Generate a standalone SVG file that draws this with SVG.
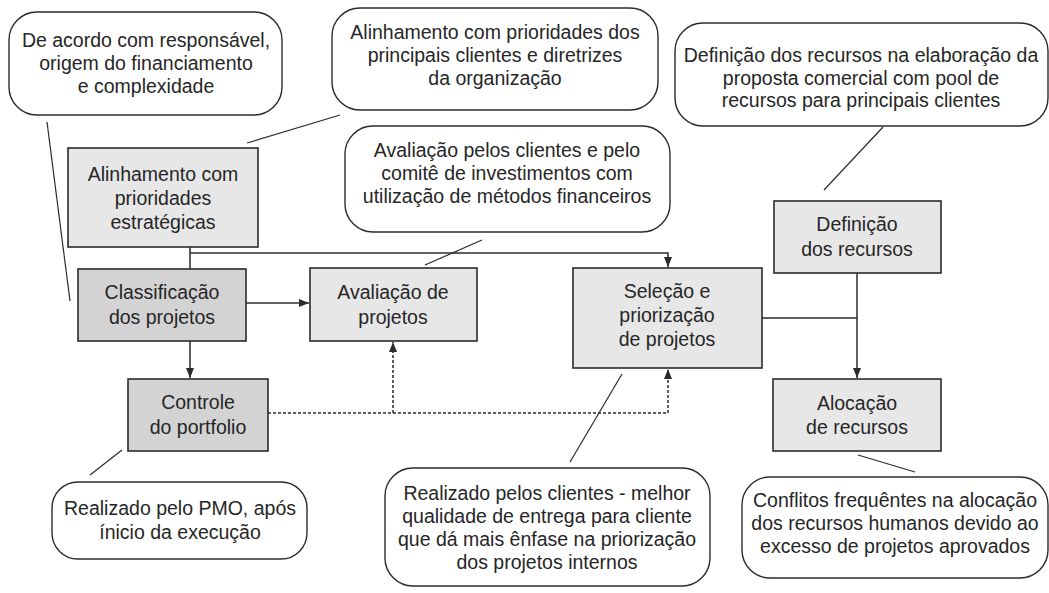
<svg xmlns="http://www.w3.org/2000/svg" width="1049" height="593" viewBox="0 0 1049 593">
<defs>
<style>
.bg{fill:#ffffff}
.callout{fill:#ffffff;stroke:#2b2b2b;stroke-width:1.4}
.box{fill:#e7e7e8;stroke:#2b2b2b;stroke-width:1.6}
.dark{fill:#d3d3d4}
.t{font-family:"Liberation Sans",Arial,sans-serif;font-size:19.5px;fill:#262626;text-anchor:middle}
.line{fill:none;stroke:#2b2b2b;stroke-width:1.5}
.dot{fill:none;stroke:#2b2b2b;stroke-width:1.5;stroke-dasharray:3 2}
.lead{fill:none;stroke:#2b2b2b;stroke-width:1.2}
</style>
<marker id="arr" viewBox="0 0 10 10" refX="10" refY="5" markerWidth="10" markerHeight="10" markerUnits="userSpaceOnUse" orient="auto">
<path d="M0,1 L10,5 L0,9 Z" fill="#2b2b2b"/>
</marker>
</defs>
<rect class="bg" x="0" y="0" width="1049" height="593"/>

<g id="connectors">
<path class="line" d="M190,247 V269"/>
<path class="line" d="M190,253 H668 V267" marker-end="url(#arr)"/>
<path class="line" d="M246,303 H309" marker-end="url(#arr)"/>
<path class="line" d="M190,341 V378" marker-end="url(#arr)"/>
<path class="line" d="M857,273 V378" marker-end="url(#arr)"/>
<path class="line" d="M762,318 H857"/>
<path class="dot" d="M268,413 H668 V369" marker-end="url(#arr)"/>
<path class="dot" d="M393,413 V342" marker-end="url(#arr)"/>
<path class="lead" d="M47,122 L70,301"/>
<path class="lead" d="M247,143 L340,115"/>
<path class="lead" d="M425,265 L482,240"/>
<path class="lead" d="M824,190 L883,127"/>
<path class="lead" d="M122,450 L90,475"/>
<path class="lead" d="M622,374 L570,462"/>
<path class="lead" d="M858,455 L915,472"/>
</g>

<g id="callout-acordo">
<rect class="callout" x="9" y="12" width="273" height="103" rx="28"/>
<text class="t" x="146" y="47">De acordo com responsável,</text>
<text class="t" x="146" y="70">origem do financiamento</text>
<text class="t" x="146" y="93">e complexidade</text>
</g>

<g id="callout-alinhamento">
<rect class="callout" x="332" y="8" width="326" height="102" rx="28"/>
<text class="t" x="495" y="39">Alinhamento com prioridades dos</text>
<text class="t" x="495" y="62">principais clientes e diretrizes</text>
<text class="t" x="495" y="85">da organização</text>
</g>

<g id="callout-avaliacao">
<rect class="callout" x="345" y="126" width="325" height="106" rx="28"/>
<text class="t" x="507" y="157">Avaliação pelos clientes e pelo</text>
<text class="t" x="507" y="180">comitê de investimentos com</text>
<text class="t" x="507" y="203">utilização de métodos financeiros</text>
</g>

<g id="callout-definicao">
<rect class="callout" x="675" y="23" width="373" height="103" rx="28"/>
<text class="t" x="861" y="62">Definição dos recursos na elaboração da</text>
<text class="t" x="861" y="85">proposta comercial com pool de</text>
<text class="t" x="861" y="107">recursos para principais clientes</text>
</g>

<g id="node-alinhamento">
<rect class="box" x="68" y="148" width="190" height="99"/>
<text class="t" x="163" y="181">Alinhamento com</text>
<text class="t" x="163" y="205">prioridades</text>
<text class="t" x="163" y="229">estratégicas</text>
</g>

<g id="node-classificacao">
<rect class="box dark" x="78" y="269" width="168" height="72"/>
<text class="t" x="162" y="299">Classificação</text>
<text class="t" x="162" y="324">dos projetos</text>
</g>

<g id="node-avaliacao">
<rect class="box" x="310" y="268" width="167" height="73"/>
<text class="t" x="393" y="299">Avaliação de</text>
<text class="t" x="393" y="324">projetos</text>
</g>

<g id="node-selecao">
<rect class="box" x="573" y="268" width="189" height="100"/>
<text class="t" x="667" y="298">Seleção e</text>
<text class="t" x="667" y="322">priorização</text>
<text class="t" x="667" y="346">de projetos</text>
</g>

<g id="node-definicao">
<rect class="box" x="774" y="201" width="167" height="72"/>
<text class="t" x="857" y="231">Definição</text>
<text class="t" x="857" y="256">dos recursos</text>
</g>

<g id="node-controle">
<rect class="box dark" x="128" y="379" width="140" height="72"/>
<text class="t" x="198" y="409">Controle</text>
<text class="t" x="198" y="434">do portfolio</text>
</g>

<g id="node-alocacao">
<rect class="box" x="773" y="379" width="168" height="72"/>
<text class="t" x="857" y="410">Alocação</text>
<text class="t" x="857" y="434">de recursos</text>
</g>

<g id="callout-pmo">
<rect class="callout" x="52" y="482" width="255" height="77" rx="26"/>
<text class="t" x="180" y="515">Realizado pelo PMO, após</text>
<text class="t" x="180" y="539">ínicio da execução</text>
</g>

<g id="callout-clientes">
<rect class="callout" x="385" y="468" width="325" height="118" rx="28"/>
<text class="t" x="547" y="500">Realizado pelos clientes - melhor</text>
<text class="t" x="547" y="523">qualidade de entrega para cliente</text>
<text class="t" x="547" y="546">que dá mais ênfase na priorização</text>
<text class="t" x="547" y="569">dos projetos internos</text>
</g>

<g id="callout-conflitos">
<rect class="callout" x="742" y="477" width="306" height="101" rx="28"/>
<text class="t" x="895" y="507">Conflitos frequêntes na alocação</text>
<text class="t" x="895" y="530">dos recursos humanos devido ao</text>
<text class="t" x="895" y="553">excesso de projetos aprovados</text>
</g>
</svg>
